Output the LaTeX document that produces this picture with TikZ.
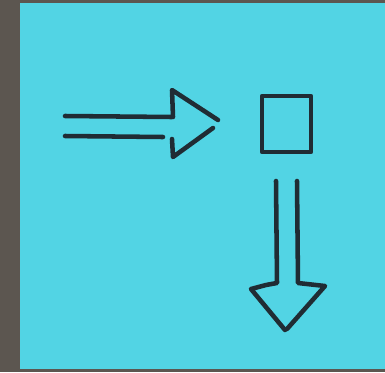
\documentclass[tikz,border=0pt]{standalone}
\usepackage{tikz}
\usetikzlibrary{positioning,calc}
\usepackage{xcolor}
\definecolor{NoteCyan}{RGB}{82,212,228}
\definecolor{DeskGray}{RGB}{92,86,80}
\definecolor{InkDark}{RGB}{32,44,52}

\begin{document}
\begin{tikzpicture}[
    x=0.75pt, y=-0.75pt,
    ink/.style={draw=InkDark, line width=3.4pt, line cap=round, line join=round},
    box/.style={rectangle, ink, inner sep=0pt,
                minimum width=36.75pt, minimum height=42pt}
]
    % desk and sticky note
    \fill[DeskGray] (0,0) rectangle (385,372);
    \fill[NoteCyan] (20,3) rectangle (385,369);
    \useasboundingbox (0,0) rectangle (385,372);

    \node[box] (square) at (286.5,124) {};
    \coordinate (inStart) at (65,126);
    \coordinate (inTip) at (220,123);
    \coordinate (outStart) at (286.5,181);
    \coordinate (outTip) at (285,330);

    % arrow into the square
    \draw[ink] (inTip) ++(-155,-7) -- ++(107,1);
    \draw[ink] (inTip) ++(-155,13) -- ++(98,1);
    \draw[ink] (inTip) ++(-47,-6) -- ++(-1,-27) -- ++(46,30);
    \draw[ink] (inTip) ++(-48,16) -- ++(1,18) -- ++(40,-29);

    % arrow out of the square
    \draw[ink] (outTip) ++(-9,-149) -- ++(1,102) -- ++(-11,2) -- ++(-15,4) -- (outTip);
    \draw[ink] (outTip) ++(12,-149) -- ++(1,102) -- ++(27,3) -- ++(-38,43);
\end{tikzpicture}
\end{document}
